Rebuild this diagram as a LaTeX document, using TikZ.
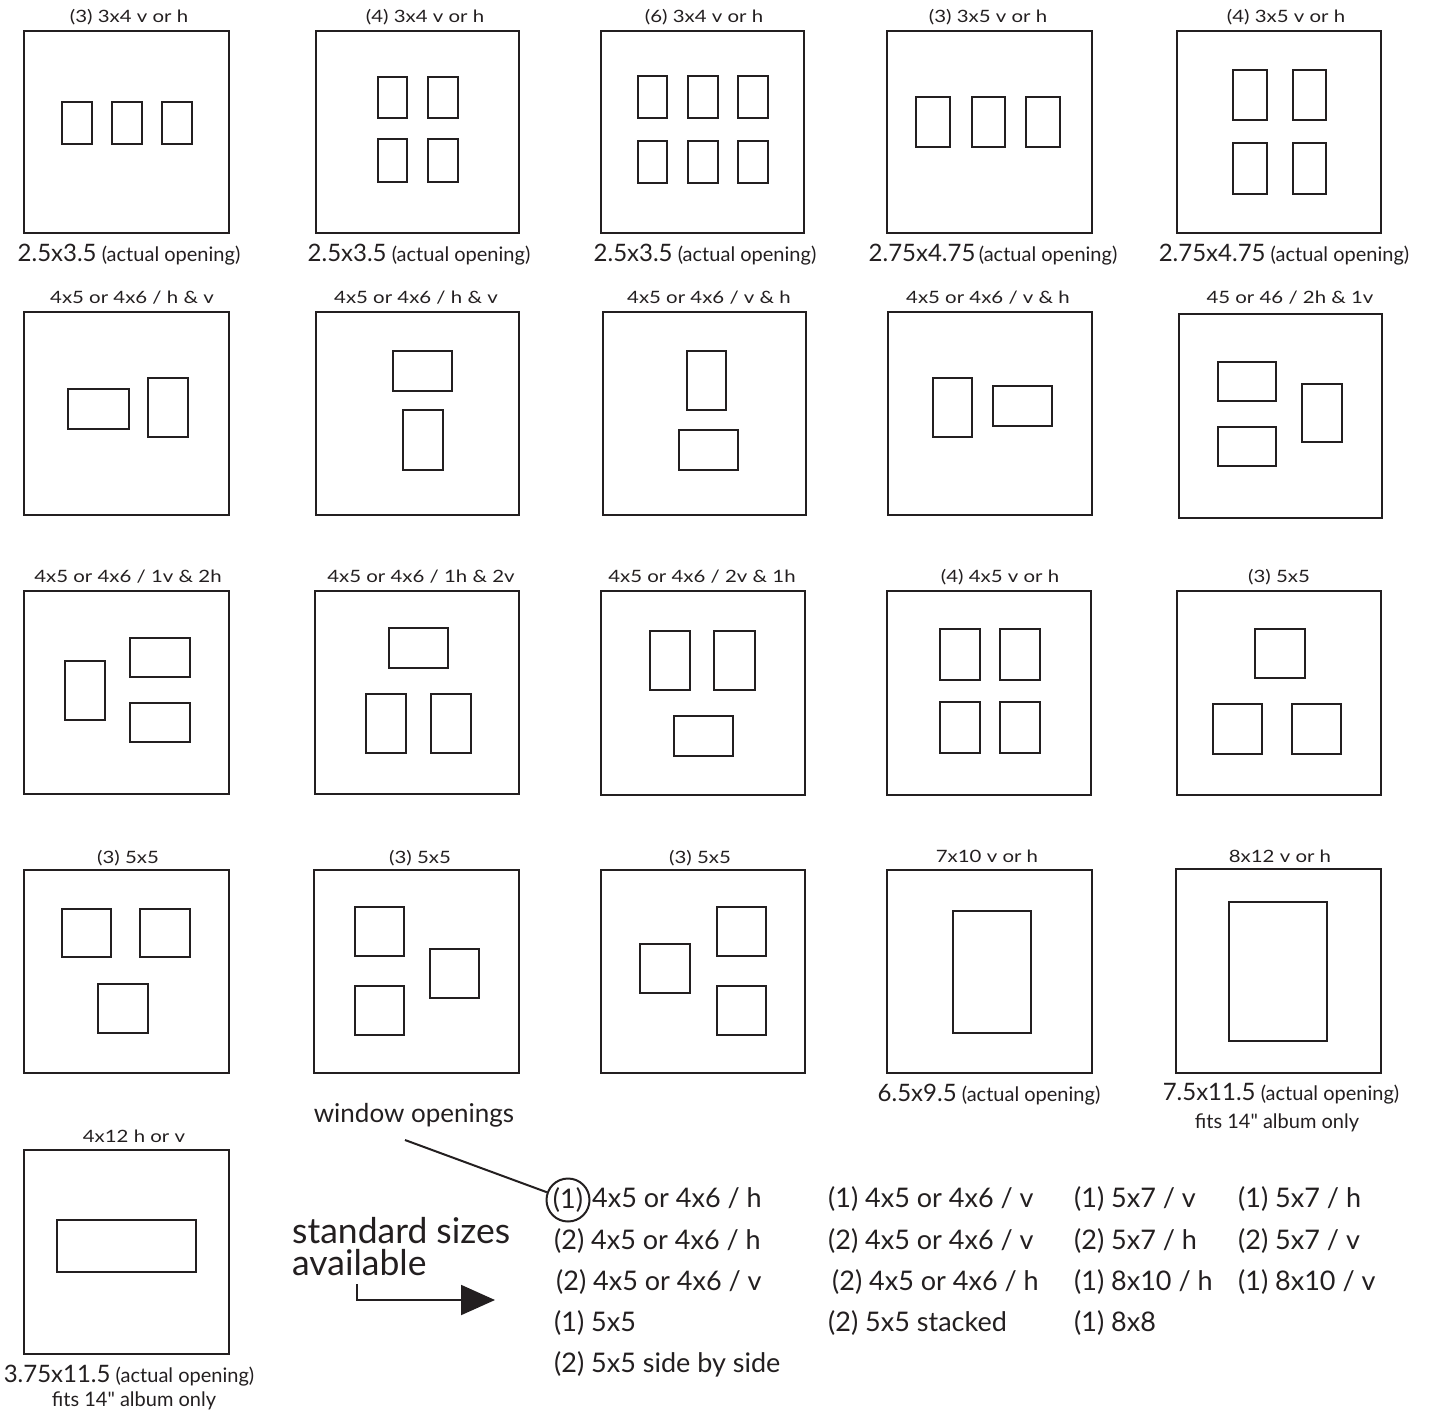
\documentclass[tikz,border=0pt]{standalone}
\usepackage{fontspec}
\setmainfont{Lato}[Ligatures=TeXOff]
\newfontfamily\tfont{Lato}[FakeStretch=1.2,Ligatures=TeXOff]
\usetikzlibrary{arrows.meta}
\definecolor{ink}{HTML}{231F20}
\newcommand{\szA}{\fontsize{24}{24}\selectfont}
\begin{document}
\begin{tikzpicture}[x=1pt,y=-1pt,
  frame/.style={draw=ink,line width=2.6pt},
  win/.style={draw=ink,line width=2.4pt},
  ttl/.style={anchor=base,inner sep=0pt,text=ink,font=\tfont\fontsize{17}{17}\selectfont},
  lbl/.style={anchor=base,inner sep=0pt,text=ink,font=\fontsize{20}{20}\selectfont},
  lst/.style={anchor=base west,inner sep=0pt,text=ink,font=\fontsize{27}{27}\selectfont},
  big/.style={anchor=base west,inner sep=0pt,text=ink,font=\fontsize{35.5}{35.5}\selectfont},
  conn/.style={draw=ink,line width=2pt}
]
\useasboundingbox (0,0) rectangle (1429,1416);

% ---------- Row 1 ----------
\node[ttl] (t11) at (129,22) {(3) 3x4 v or h};
\draw[frame] (24,31) rectangle (229,233);
\draw[win] (62,102) rectangle (92,144);
\draw[win] (112,102) rectangle (142,144);
\draw[win] (162,102) rectangle (192,144);
\node[lbl] (l11) at (129,261) {{\szA 2.5x3.5} (actual opening)};

\node[ttl] (t12) at (425,22) {(4) 3x4 v or h};
\draw[frame] (316,31) rectangle (519,233);
\draw[win] (378,77) rectangle (407,118);
\draw[win] (428,77) rectangle (458,118);
\draw[win] (378,139) rectangle (407,182);
\draw[win] (428,139) rectangle (458,182);
\node[lbl] (l12) at (419,261) {{\szA 2.5x3.5} (actual opening)};

\node[ttl] (t13) at (704,22) {(6) 3x4 v or h};
\draw[frame] (601,31) rectangle (804,233);
\draw[win] (638,76) rectangle (667,118);
\draw[win] (688,76) rectangle (718,118);
\draw[win] (738,76) rectangle (768,118);
\draw[win] (638,141) rectangle (667,183);
\draw[win] (688,141) rectangle (718,183);
\draw[win] (738,141) rectangle (768,183);
\node[lbl] (l13) at (705,261) {{\szA 2.5x3.5} (actual opening)};

\node[ttl] (t14) at (988,22) {(3) 3x5 v or h};
\draw[frame] (887,31) rectangle (1092,233);
\draw[win] (916,97) rectangle (950,147);
\draw[win] (972,97) rectangle (1005,147);
\draw[win] (1026,97) rectangle (1060,147);
\node[lbl] (l14) at (993,261) {{\szA 2.75x4.75}\,(actual opening)};

\node[ttl] (t15) at (1286,22) {(4) 3x5 v or h};
\draw[frame] (1177,31) rectangle (1381,233);
\draw[win] (1233,70) rectangle (1267,120);
\draw[win] (1293,70) rectangle (1326,120);
\draw[win] (1233,143) rectangle (1267,194);
\draw[win] (1293,143) rectangle (1326,194);
\node[lbl] (l15) at (1284,261) {{\szA 2.75x4.75} (actual opening)};

% ---------- Row 2 ----------
\node[ttl] (t21) at (132,303) {4x5 or 4x6 / h \& v};
\draw[frame] (24,312) rectangle (229,515);
\draw[win] (68,389) rectangle (129,429);
\draw[win] (148,378) rectangle (188,437);

\node[ttl] (t22) at (416,303) {4x5 or 4x6 / h \& v};
\draw[frame] (316,312) rectangle (519,515);
\draw[win] (393,351) rectangle (452,391);
\draw[win] (403,410) rectangle (443,470);

\node[ttl] (t23) at (709,303) {4x5 or 4x6 / v \& h};
\draw[frame] (603,312) rectangle (806,515);
\draw[win] (687,351) rectangle (726,410);
\draw[win] (679,430) rectangle (738,470);

\node[ttl] (t24) at (988,303) {4x5 or 4x6 / v \& h};
\draw[frame] (888,312) rectangle (1092,515);
\draw[win] (933,378) rectangle (972,437);
\draw[win] (993,386) rectangle (1052,426);

\node[ttl] (t25) at (1290,303) {45 or 46 / 2h \& 1v};
\draw[frame] (1179,314) rectangle (1382,518);
\draw[win] (1218,362) rectangle (1276,401);
\draw[win] (1218,427) rectangle (1276,466);
\draw[win] (1302,384) rectangle (1342,442);

% ---------- Row 3 ----------
\node[ttl] (t31) at (128,582) {4x5 or 4x6 / 1v \& 2h};
\draw[frame] (24,591) rectangle (229,794);
\draw[win] (65,661) rectangle (105,720);
\draw[win] (130,638) rectangle (190,677);
\draw[win] (130,703) rectangle (190,742);

\node[ttl] (t32) at (421,582) {4x5 or 4x6 / 1h \& 2v};
\draw[frame] (315,591) rectangle (519,794);
\draw[win] (389,628) rectangle (448,668);
\draw[win] (366,694) rectangle (406,753);
\draw[win] (431,694) rectangle (471,753);

\node[ttl] (t33) at (702,582) {4x5 or 4x6 / 2v \& 1h};
\draw[frame] (601,591) rectangle (805,795);
\draw[win] (650,631) rectangle (690,690);
\draw[win] (714,631) rectangle (755,690);
\draw[win] (674,716) rectangle (733,756);

\node[ttl] (t34) at (1000,582) {(4) 4x5 v or h};
\draw[frame] (887,591) rectangle (1091,795);
\draw[win] (940,629) rectangle (980,680);
\draw[win] (1000,629) rectangle (1040,680);
\draw[win] (940,702) rectangle (980,753);
\draw[win] (1000,702) rectangle (1040,753);

\node[ttl] (t35) at (1279,582) {(3) 5x5};
\draw[frame] (1177,591) rectangle (1381,795);
\draw[win] (1255,629) rectangle (1305,678);
\draw[win] (1213,704) rectangle (1262,754);
\draw[win] (1292,704) rectangle (1341,754);

% ---------- Row 4 ----------
\node[ttl] (t41) at (128,863) {(3) 5x5};
\draw[frame] (24,870) rectangle (229,1073);
\draw[win] (62,909) rectangle (111,957);
\draw[win] (140,909) rectangle (190,957);
\draw[win] (98,984) rectangle (148,1033);

\node[ttl] (t42) at (420,863) {(3) 5x5};
\draw[frame] (314,870) rectangle (519,1073);
\draw[win] (355,907) rectangle (404,956);
\draw[win] (355,986) rectangle (404,1035);
\draw[win] (430,949) rectangle (479,998);

\node[ttl] (t43) at (700,863) {(3) 5x5};
\draw[frame] (601,870) rectangle (805,1073);
\draw[win] (640,944) rectangle (690,993);
\draw[win] (717,907) rectangle (766,956);
\draw[win] (717,986) rectangle (766,1035);

\node[ttl] (t44) at (987,862) {7x10 v or h};
\draw[frame] (887,870) rectangle (1092,1073);
\draw[win] (953,911) rectangle (1031,1033);
\node[lbl] (l44) at (989,1101) {{\szA 6.5x9.5} (actual opening)};

\node[ttl] (t45) at (1280,862) {8x12 v or h};
\draw[frame] (1176,869) rectangle (1381,1073);
\draw[win] (1229,902) rectangle (1327,1041);
\node[lbl] (l45) at (1281,1100) {{\szA 7.5x11.5} (actual opening)};
\node[lbl] (f45) at (1277,1128) {fits 14" album only};

% ---------- Row 5 ----------
\node[ttl] (t51) at (134,1142) {4x12 h or v};
\draw[frame] (24,1150) rectangle (229,1354);
\draw[win] (57,1220) rectangle (196,1272);
\node[lbl] (l51) at (129,1382) {{\szA 3.75x11.5} (actual opening)};
\node[lbl] (f51) at (134,1406) {fits 14" album only};

% ---------- Legend ----------
\node[anchor=base,inner sep=0pt,text=ink,font=\fontsize{26}{26}\selectfont] (wo) at (414,1122) {window openings};
\node[big] (ss1) at (292,1243) {standard sizes};
\node[big] (ss2) at (292,1275) {available};
\coordinate (as) at (357,1284);
\coordinate (ae) at (495,1300);
\draw[conn,-{Triangle[length=34pt,width=30pt]}] (as) |- (ae);

\node[draw=ink,circle,line width=2pt,minimum size=43pt,inner sep=0pt,text=ink,font=\fontsize{27}{27}\selectfont] (c1) at (568,1200) {(1)};
\coordinate (wob) at (405,1140);
\draw[conn] (wob) -- (c1);

\node[lst] (a1) at (592,1207) {4x5 or 4x6 / h};
\node[lst] (a2) at (554,1249) {(2) 4x5 or 4x6 / h};
\node[lst] (a3) at (556,1290) {(2) 4x5 or 4x6 / v};
\node[lst] (a4) at (554,1331) {(1) 5x5};
\node[lst] (a5) at (554,1372) {(2) 5x5 side by side};

\node[lst] (b1) at (828,1207) {(1) 4x5 or 4x6 / v};
\node[lst] (b2) at (828,1249) {(2) 4x5 or 4x6 / v};
\node[lst] (b3) at (832,1290) {(2) 4x5 or 4x6 / h};
\node[lst] (b4) at (828,1331) {(2) 5x5 stacked};

\node[lst] (c1t) at (1074,1207) {(1) 5x7 / v};
\node[lst] (c2t) at (1074,1249) {(2) 5x7 / h};
\node[lst] (c3t) at (1074,1290) {(1) 8x10 / h};
\node[lst] (c4t) at (1074,1331) {(1) 8x8};

\node[lst] (d1) at (1238,1207) {(1) 5x7 / h};
\node[lst] (d2) at (1238,1249) {(2) 5x7 / v};
\node[lst] (d3) at (1238,1290) {(1) 8x10 / v};
\end{tikzpicture}
\end{document}
